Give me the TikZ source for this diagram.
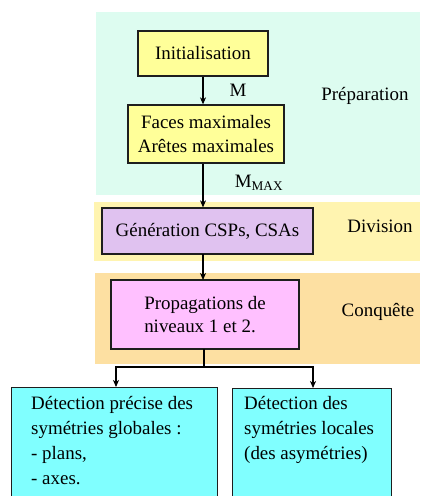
\documentclass[tikz,border=0pt]{standalone}
\usepackage{fontspec}
\setmainfont{Liberation Serif}
\newfontfamily\diagfont{Liberation Serif}
\usetikzlibrary{arrows.meta}
\definecolor{prepbg}{RGB}{221,252,240}
\definecolor{divbg}{RGB}{255,244,176}
\definecolor{conqbg}{RGB}{253,224,162}
\definecolor{yellowbox}{RGB}{255,255,153}
\definecolor{purplebox}{RGB}{224,194,240}
\definecolor{pinkbox}{RGB}{255,192,255}
\definecolor{cyanbox}{RGB}{128,255,255}
\definecolor{edge}{RGB}{30,30,30}
\tikzset{
  txt/.style={font=\diagfont\fontsize{19}{25}\selectfont, inner sep=0pt},
  stagebox/.style={draw=edge, line width=1.3pt, inner sep=0pt},
  link/.style={draw=black, line width=1.1pt, -{Stealth[length=7pt,width=6pt,inset=2pt]}},
  plainlink/.style={draw=black, line width=1.1pt},
}
\begin{document}
\begin{tikzpicture}[x=1bp,y=-1bp]
\useasboundingbox (0,0) rectangle (420,496);
\clip (0,0) rectangle (420,496);
% backgrounds
\fill[prepbg] (96,12) rectangle (420,195);
\fill[divbg] (94,202) rectangle (420,261);
\fill[conqbg] (95,273) rectangle (420,364);
% boxes
\node[stagebox, fill=yellowbox, minimum width=130bp, minimum height=45bp] (init) at (203,53.5) {};
\node[txt] (initt) at (init.center) {Initialisation};
\node[stagebox, fill=yellowbox, minimum width=156bp, minimum height=58bp] (faces) at (206,134) {};
\node[txt, align=center] (facest) at (faces.center) {Faces maximales\\Arêtes maximales};
\node[stagebox, fill=purplebox, minimum width=211bp, minimum height=46bp] (gen) at (207.5,231) {};
\node[txt] (gent) at (gen.center) {Génération CSPs, CSAs};
\node[stagebox, fill=pinkbox, minimum width=188bp, minimum height=69bp] (prop) at (205,314.5) {};
\node[txt, align=left, font=\diagfont\fontsize{19}{23.5}\selectfont] (propt) at (prop.center) {Propagations de\\niveaux 1 et 2.};
\node[stagebox, fill=cyanbox, minimum width=206bp, minimum height=130bp, anchor=north west] (lb) at (11,387) {};
\node[txt, align=left, anchor=north west] (lbt) at (31,396) {Détection précise des\\symétries globales :\\- plans,\\- axes.};
\node[stagebox, fill=cyanbox, minimum width=159bp, minimum height=130bp, anchor=north west] (rb) at (232,388) {};
\node[txt, align=left, anchor=north west] (rbt) at (244,396) {Détection des\\symétries locales\\(des asymétries)};
% labels
\node[txt] (mlab) at (238,90) {M};
\node[txt] (mmax) at (259,183) {M\textsubscript{MAX}};
\node[txt] (prep) at (365,96) {Préparation};
\node[txt] (div) at (380,226) {Division};
\node[txt] (conq) at (378,312) {Conquête};
% connectors
\draw[link] (init.south) -- (init.south |- faces.north);
\draw[link] ([xshift=-3bp]faces.south) -- ([xshift=-3bp]faces.south |- gen.north);
\draw[link] (203,254) -- (203,280);
\coordinate (junc) at (204,367);
\draw[plainlink] (204,349) -- (junc);
\draw[link] (junc) -| (116,387);
\draw[link] (junc) -| (313,388);
\end{tikzpicture}
\end{document}
